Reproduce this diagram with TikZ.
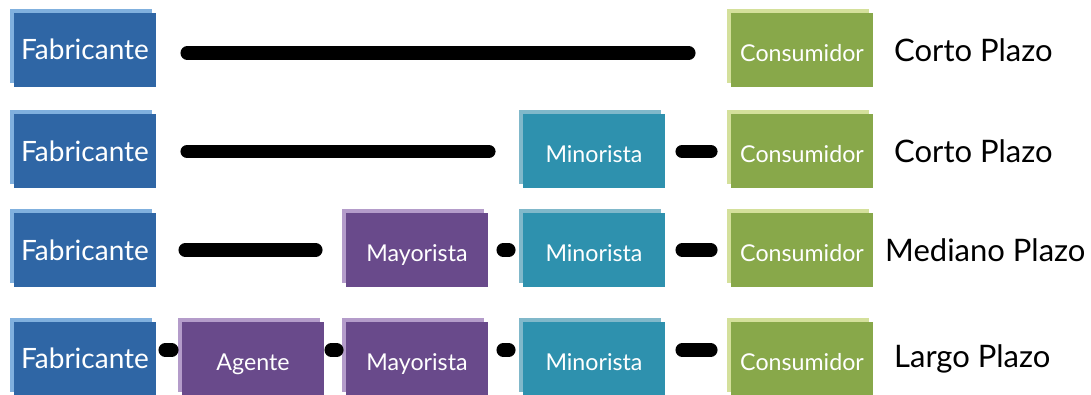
\documentclass[tikz,border=0pt]{standalone}
\usepackage{fontspec}
\setmainfont{Lato}
\usetikzlibrary{shadows}
\definecolor{fabM}{HTML}{2F66A5}
\definecolor{fabL}{HTML}{80B0DE}
\definecolor{conM}{HTML}{88A84A}
\definecolor{conL}{HTML}{D4E09B}
\definecolor{minM}{HTML}{2E91AE}
\definecolor{minL}{HTML}{80B8CA}
\definecolor{mayM}{HTML}{694A8B}
\definecolor{mayL}{HTML}{B49CCA}
\tikzset{
  box/.style={rectangle, minimum width=142pt, minimum height=74pt, inner sep=0pt, text=white, font=\fontsize{23.2}{23.2}\selectfont, text height=23pt, text depth=0pt},
  fab/.style={box, fill=fabM, general shadow={shadow xshift=-4pt, shadow yshift=4pt, fill=fabL}, font=\fontsize{28}{28}\selectfont, text height=20pt},
  con/.style={box, fill=conM, general shadow={shadow xshift=-4pt, shadow yshift=4pt, fill=conL}},
  mino/.style={box, fill=minM, general shadow={shadow xshift=-4pt, shadow yshift=4pt, fill=minL}},
  mayo/.style={box, fill=mayM, general shadow={shadow xshift=-4pt, shadow yshift=4pt, fill=mayL}},
  plazo/.style={anchor=west, inner sep=0pt, font=\fontsize{31}{31}\selectfont},
  conn/.style={line width=13.5pt, line cap=round, black}
}
\begin{document}
\begin{tikzpicture}[x=1pt, y=-1pt]
\useasboundingbox (0,0) rectangle (1091,395);
% Row 1
\node[fab] (fab1) at (85,50) {Fabricante};
\node[con] (con1) at (802,50) {Consumidor};
\node[plazo] (lab1) at (894,50) {Corto Plazo};
\draw[conn, transform canvas={yshift=-3pt}, shorten <=31pt, shorten >=42pt] (fab1.east) -- (con1.west);
% Row 2
\node[fab] (fab2) at (85,151.5) {Fabricante};
\node[mino] (min2) at (594,151.5) {Minorista};
\node[con] (con2) at (802,151.5) {Consumidor};
\node[plazo] (lab2) at (894,151.5) {Corto Plazo};
\draw[conn, shorten <=31pt, shorten >=34pt] (fab2.east) -- (min2.west);
\draw[conn, shorten <=17pt, shorten >=20pt] (min2.east) -- (con2.west);
% Row 3
\node[fab] (fab3) at (85,250) {Fabricante};
\node[mayo] (may3) at (417,250) {Mayorista};
\node[mino] (min3) at (594,250) {Minorista};
\node[con] (con3) at (802,250) {Consumidor};
\node[plazo] (lab3) at (885,250) {Mediano Plazo};
\draw[conn, shorten <=29pt, shorten >=30pt] (fab3.east) -- (may3.west);
\draw[conn, shorten <=15pt, shorten >=14pt] (may3.east) -- (min3.west);
\draw[conn, shorten <=17pt, shorten >=20pt] (min3.east) -- (con3.west);
% Row 4
\node[fab] (fab4) at (85,358.5) {Fabricante};
\node[mayo] (age4) at (253,358.5) {Agente};
\node[mayo] (may4) at (417,358.5) {Mayorista};
\node[mino] (min4) at (594,358.5) {Minorista};
\node[con] (con4) at (802,358.5) {Consumidor};
\node[plazo] (lab4) at (894,358.5) {Largo Plazo};
\begin{scope}[transform canvas={yshift=8.5pt}]
\draw[conn, shorten <=9pt, shorten >=10pt] (fab4.east) -- (age4.west);
\draw[conn, shorten <=7pt, shorten >=9pt] (age4.east) -- (may4.west);
\draw[conn, shorten <=15pt, shorten >=14pt] (may4.east) -- (min4.west);
\draw[conn, shorten <=17pt, shorten >=20pt] (min4.east) -- (con4.west);
\end{scope}
\end{tikzpicture}
\end{document}
